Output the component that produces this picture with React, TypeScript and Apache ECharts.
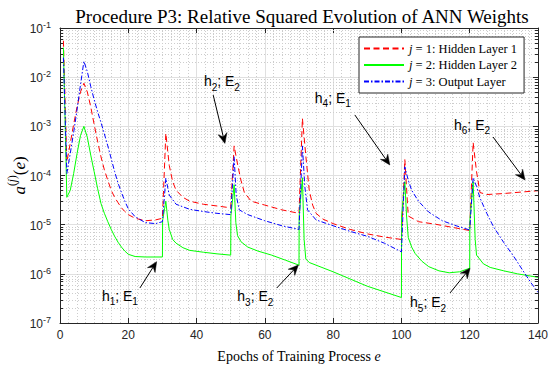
import React, { useEffect, useRef } from 'react';
import * as echarts from 'echarts';

// ---------- data ----------
const titleText = 'Procedure P3: Relative Squared Evolution of ANN Weights';
const seriesNames = ['j = 1: Hidden Layer 1', 'j = 2: Hidden Layer 2', 'j = 3: Output Layer'];
const xTickMin = 0;
const xTickMax = 140;
const xTickStep = 20;
const yMin = 1e-7;
const yMax = 1e-1;

// j = 1: Hidden Layer 1  [epoch, value]
const hidden1: [number, number][] = [
  [1, 0.055], [2, 1.9e-4], [3, 4.5e-4], [4, 1.1e-3], [5, 2.5e-3], [6, 5e-3], [7, 7.5e-3],
  [8, 5e-3], [9, 2.5e-3], [10, 1.1e-3], [11, 5e-4], [12, 2.4e-4], [13, 1.3e-4], [14, 8e-5],
  [15, 5e-5], [16, 3.6e-5], [17, 2.8e-5], [18, 2.2e-5], [19, 1.85e-5], [20, 1.6e-5],
  [22, 1.35e-5], [25, 1.2e-5], [28, 1.25e-5], [30, 1.35e-5],
  [31, 7.2e-4], [32, 1.6e-4], [33, 7.5e-5], [34, 5e-5], [36, 3.6e-5], [38, 3e-5],
  [42, 2.6e-5], [46, 2.4e-5], [50, 2.2e-5],
  [51, 4e-4], [52, 1.7e-4], [53, 8e-5], [54, 4.5e-5], [56, 3e-5], [60, 2.5e-5], [65, 2e-5], [70, 1.7e-5],
  [71, 1.45e-3], [72, 2.5e-4], [73, 5e-5], [74, 2.5e-5], [75, 1.7e-5], [77, 1.3e-5],
  [80, 1.05e-5], [85, 8e-6], [90, 6.5e-6], [95, 5.6e-6], [100, 5e-6],
  [101, 2.1e-4], [102, 1.5e-5], [105, 1.15e-5], [110, 1.02e-5], [115, 8.8e-6], [120, 7.6e-6],
  [121, 4.7e-4], [122, 1.2e-4], [123, 4.5e-5], [125, 4.1e-5], [130, 4.3e-5], [135, 4.6e-5], [140, 4.9e-5],
];

// j = 2: Hidden Layer 2
const hidden2: [number, number][] = [
  [1, 0.04], [2, 3.6e-5], [3, 5e-5], [4, 1.1e-4], [5, 2.8e-4], [6, 6.5e-4], [7, 1e-3],
  [8, 6e-4], [9, 2.6e-4], [10, 1.2e-4], [11, 5.5e-5], [12, 2.7e-5], [13, 1.7e-5], [14, 1.15e-5],
  [15, 8e-6], [16, 5.8e-6], [17, 4.4e-6], [18, 3.5e-6], [19, 2.9e-6], [20, 2.5e-6],
  [22, 2.25e-6], [25, 2.2e-6], [30, 2.2e-6],
  [30.05, 1.2e-5], [31, 3e-5], [31.6, 1.2e-5], [32, 8e-6], [33, 5e-6], [34, 4.2e-6], [36, 3.4e-6],
  [38, 3e-6], [42, 2.75e-6], [46, 2.55e-6], [50, 2.4e-6],
  [50.05, 1.5e-5], [51, 6.5e-5], [51.5, 1.1e-5], [52, 6e-6], [53, 4.5e-6], [55, 3.5e-6],
  [58, 2.9e-6], [62, 2.4e-6], [66, 1.9e-6], [70, 1.5e-6],
  [70.05, 1.5e-5], [71, 9e-5], [71.5, 5e-6], [72, 2e-6], [73, 1.7e-6], [80, 1.1e-6],
  [90, 5.6e-7], [100, 3.3e-7],
  [100.05, 1.5e-5], [101, 7.5e-5], [101.5, 1.5e-5], [102, 5.5e-6], [103, 3.5e-6], [104, 2.6e-6],
  [106, 1.8e-6], [108, 1.4e-6], [111, 1.15e-6], [114, 1.05e-6], [117, 1.1e-6], [120, 1.3e-6],
  [120.05, 1.2e-5], [121, 7.5e-5], [121.6, 5e-6], [122, 2.4e-6], [124, 1.6e-6], [126, 1.35e-6],
  [130, 1.15e-6], [134, 1.0e-6], [140, 8.5e-7],
];

// j = 3: Output Layer
const outputLayer: [number, number][] = [
  [1, 0.025], [2, 1.1e-4], [3, 2.8e-4], [4, 7.5e-4], [5, 2.2e-3], [6, 7e-3], [7, 0.021],
  [8, 0.013], [9, 6.5e-3], [10, 3.5e-3], [11, 2e-3], [12, 1.2e-3], [13, 7e-4], [14, 4e-4],
  [15, 2.2e-4], [16, 1.2e-4], [17, 7e-5], [18, 4.5e-5], [19, 3e-5], [20, 2.1e-5],
  [22, 1.45e-5], [25, 1.1e-5], [28, 1.05e-5], [30, 1.15e-5],
  [31, 8.8e-5], [32, 4e-5], [34, 2.6e-5], [38, 2.05e-5], [42, 1.85e-5], [46, 1.7e-5], [50, 1.6e-5],
  [51, 2.4e-4], [51.6, 4e-5], [52.5, 2e-5], [55, 1.6e-5], [60, 1.2e-5], [65, 9.5e-6], [70, 8e-6],
  [71, 4e-4], [71.7, 6e-5], [72.5, 2e-5], [75, 1.25e-5], [80, 9.5e-6], [85, 7.3e-6],
  [90, 5.8e-6], [95, 4.2e-6], [100, 2.8e-6],
  [101, 1.5e-4], [102, 8e-5], [103, 5e-5], [105, 3e-5], [108, 1.8e-5], [112, 1.2e-5],
  [116, 9.5e-6], [120, 7.8e-6],
  [121, 9e-5], [122, 6e-5], [123, 3.5e-5], [125, 1.7e-5], [127, 9e-6], [130, 4.3e-6],
  [133, 2.2e-6], [136, 1.05e-6], [138, 6.5e-7], [140, 4.2e-7],
];

// annotation labels (h index, E index) and the data point each arrow points at
const annotationLabels: [string, string][] = [['1', '1'], ['2', '2'], ['3', '2'], ['4', '1'], ['5', '2'], ['6', '2']];
const annotationTips: [number, number][] = [
  [28.3, 1.77e-6], [48.3, 4.5e-4], [69.8, 1.51e-6], [96.6, 1.64e-4], [120.1, 1.3e-6], [136.2, 8.1e-5],
];

// ---------- layout (pixel offsets from the arrow tip) ----------
const annotationTailOffsets: [number, number][] = [
  [-16.7, 26.3], [-11.7, -48.3], [-21.6, 23], [-35, -50], [-20, 24.7], [-32, -43],
];
const annotationTextOffsets: [number, number][] = [
  [-36.7, 36], [-3, -60], [-43, 33], [-57, -65], [-42, 36], [-53, -53],
];

export default function App() {
  const ref = useRef<HTMLDivElement>(null);

  useEffect(() => {
    const el = ref.current!;
    const chart = echarts.init(el, null, { renderer: 'svg' });

    const sans = '"Liberation Sans", Arial, Helvetica, sans-serif';
    const serif = '"Liberation Serif", "Times New Roman", serif';
    const axisColor = '#262626';
    const majorGrid = '#e0e0e0';
    const minorGrid = '#cdcdcd';

    const axisCommon = {
      axisLine: { show: true, onZero: false, lineStyle: { color: axisColor, width: 1 } },
      axisTick: { show: true, inside: true, length: 5, lineStyle: { color: axisColor, width: 1 } },
    };

    const supRich = {
      b: { fontFamily: sans, fontSize: 12, color: axisColor, lineHeight: 14, padding: [2, 0, 0, 0] },
      s: { fontFamily: sans, fontSize: 9, color: axisColor, lineHeight: 10, padding: [0, 0, 6, 0] },
    };

    const yNameRich = {
      a: { fontFamily: serif, fontStyle: 'italic', fontSize: 17, color: '#000', lineHeight: 18, padding: [5, 0, 0, 0] },
      n: { fontFamily: serif, fontSize: 17, color: '#000', lineHeight: 18, padding: [5, 0, 0, 0] },
      sp: { fontFamily: serif, fontSize: 11.5, color: '#000', lineHeight: 12, padding: [0, 0, 11, 0] },
      spi: { fontFamily: serif, fontStyle: 'italic', fontSize: 11.5, color: '#000', lineHeight: 12, padding: [0, 0, 11, 0] },
    };

    const option: any = {
      animation: false,
      backgroundColor: '#ffffff',
      title: {
        text: titleText,
        left: 297,
        top: 2,
        textAlign: 'center',
        textStyle: { fontFamily: serif, fontSize: 19, fontWeight: 'normal', color: '#000' },
      },
      grid: { left: 60, right: 12, top: 28, bottom: 45, containLabel: false, outerBoundsMode: 'none' },
      legend: {
        show: true,
        orient: 'vertical',
        left: 359,
        top: 37,
        data: seriesNames,
        itemWidth: 40,
        itemHeight: 11,
        itemGap: 3.5,
        padding: [5, 7, 5, 4],
        backgroundColor: '#ffffff',
        borderColor: axisColor,
        borderWidth: 1,
        borderRadius: 0,
        selectedMode: false,
        itemStyle: { opacity: 0 },
        textStyle: {
          fontFamily: serif, fontSize: 12.5, color: '#000',
          rich: { i: { fontFamily: serif, fontStyle: 'italic', fontSize: 12.5, color: '#000' } },
        },
        formatter: (name: string) => name.replace(/^j/, '{i|j}'),
      },
      xAxis: [
        {
          type: 'value', min: xTickMin, max: xTickMax, interval: xTickStep, position: 'bottom',
          name: 'Epochs of Training Process {i|e}', nameLocation: 'middle', nameGap: 26, nameMoveOverlap: false,
          nameTextStyle: {
            fontFamily: serif, fontSize: 14, color: '#000',
            rich: { i: { fontFamily: serif, fontStyle: 'italic', fontSize: 14, color: '#000' } },
          },
          ...axisCommon,
          axisLabel: { fontFamily: sans, fontSize: 12, color: axisColor, margin: 6 },
          splitLine: { show: true, lineStyle: { color: majorGrid, width: 1 } },
          minorTick: { show: false, splitNumber: 8 },
          minorSplitLine: { show: true, lineStyle: { color: minorGrid, width: 1, type: [1, 2] } },
        },
        {
          type: 'value', min: xTickMin, max: xTickMax, interval: xTickStep, position: 'top',
          ...axisCommon,
          axisLabel: { show: false },
          splitLine: { show: false },
        },
      ],
      yAxis: [
        {
          type: 'log', logBase: 10, min: yMin, max: yMax, splitNumber: 6, position: 'left',
          name: '{a|a}{sp|(}{spi|j}{sp|)}{n|(}{a|e}{n|)}', nameLocation: 'middle', nameRotate: 90,
          nameGap: 34, nameMoveOverlap: false,
          nameTextStyle: { rich: yNameRich },
          ...axisCommon,
          axisLabel: {
            margin: 9,
            formatter: (v: number) => `{b|10}{s|${Math.round(Math.log10(v))}}`,
            rich: supRich,
          },
          splitLine: { show: true, lineStyle: { color: majorGrid, width: 1 } },
        },
        {
          type: 'log', logBase: 10, min: yMin, max: yMax, splitNumber: 6, position: 'right',
          ...axisCommon,
          axisLabel: { show: false },
          splitLine: { show: false },
        },
      ],
      series: [
        {
          name: seriesNames[0], type: 'line', xAxisIndex: 0, yAxisIndex: 0, data: hidden1,
          symbol: 'none', z: 3,
          itemStyle: { color: '#ff0000' },
          lineStyle: { color: '#ff0000', width: 1, type: [6, 3.5] },
        },
        {
          name: seriesNames[1], type: 'line', xAxisIndex: 0, yAxisIndex: 0, data: hidden2,
          symbol: 'none', z: 3,
          itemStyle: { color: '#00ff00' },
          lineStyle: { color: '#00ff00', width: 1, type: 'solid' },
        },
        {
          name: seriesNames[2], type: 'line', xAxisIndex: 0, yAxisIndex: 0, data: outputLayer,
          symbol: 'none', z: 3,
          itemStyle: { color: '#0000ff' },
          lineStyle: { color: '#0000ff', width: 1, type: [5, 2, 1.5, 2] },
        },
      ],
    };

    chart.setOption(option);

    // ---------- decorations positioned through the chart's own scales ----------
    const px = (x: number, y: number) =>
      chart.convertToPixel({ xAxisIndex: 0, yAxisIndex: 0 }, [x, y]) as number[];
    const left = px(xTickMin, 1e-3)[0];
    const right = px(xTickMax, 1e-3)[0];
    const elements: any[] = [];

    // log-axis minor grid (2..9 x 10^k) and minor ticks on both sides
    for (let e = Math.round(Math.log10(yMin)); e < Math.round(Math.log10(yMax)); e++) {
      for (let k = 2; k <= 9; k++) {
        const y = Math.round(px(0, k * Math.pow(10, e))[1]) + 0.5;
        elements.push({
          type: 'line', silent: true, z: 1,
          shape: { x1: left, y1: y, x2: right, y2: y },
          style: { stroke: minorGrid, lineWidth: 1, lineDash: [1, 2] },
        });
        elements.push({
          type: 'line', silent: true, z: 5,
          shape: { x1: left, y1: y, x2: left + 3, y2: y },
          style: { stroke: axisColor, lineWidth: 1 },
        });
        elements.push({
          type: 'line', silent: true, z: 5,
          shape: { x1: right - 3, y1: y, x2: right, y2: y },
          style: { stroke: axisColor, lineWidth: 1 },
        });
      }
    }

    // annotations
    const annRich = {
      m: { fontFamily: sans, fontSize: 14, fill: '#000', lineHeight: 16, padding: [0, 0, 4, 0] },
      s: { fontFamily: sans, fontSize: 10, fill: '#000', lineHeight: 12, padding: [8, 0, 0, 0] },
    };
    annotationLabels.forEach(([h, E], i) => {
      const tip = px(annotationTips[i][0], annotationTips[i][1]);
      const tail = [tip[0] + annotationTailOffsets[i][0], tip[1] + annotationTailOffsets[i][1]];
      const tc = [tip[0] + annotationTextOffsets[i][0], tip[1] + annotationTextOffsets[i][1]];
      const dx = tip[0] - tail[0];
      const dy = tip[1] - tail[1];
      const len = Math.hypot(dx, dy);
      const ux = dx / len, uy = dy / len;
      const nx = -uy, ny = ux;
      const L = 10, W = 4.5, notch = 6.5;
      const bx = tip[0] - L * ux, by = tip[1] - L * uy;
      const mx = tip[0] - notch * ux, my = tip[1] - notch * uy;
      elements.push({
        type: 'line', silent: true, z: 10,
        shape: { x1: tail[0], y1: tail[1], x2: mx, y2: my },
        style: { stroke: '#000', lineWidth: 1 },
      });
      elements.push({
        type: 'polygon', silent: true, z: 10,
        shape: { points: [[tip[0], tip[1]], [bx + W * nx, by + W * ny], [mx, my], [bx - W * nx, by - W * ny]] },
        style: { fill: '#000', stroke: '#000', lineWidth: 0.5 },
      });
      elements.push({
        type: 'text', silent: true, z: 10,
        x: tc[0], y: tc[1],
        style: {
          text: `{m|h}{s|${h}}{m|; E}{s|${E}}`,
          rich: annRich,
          align: 'center',
          verticalAlign: 'middle',
          fill: '#000',
        },
      });
    });

    chart.setOption({ graphic: { elements } });

    return () => {
      chart.dispose();
    };
  }, []);

  return (
    <div
      ref={ref}
      style={{ position: 'absolute', left: 0, top: 0, width: 550, height: 368, background: '#fff' }}
    />
  );
}
